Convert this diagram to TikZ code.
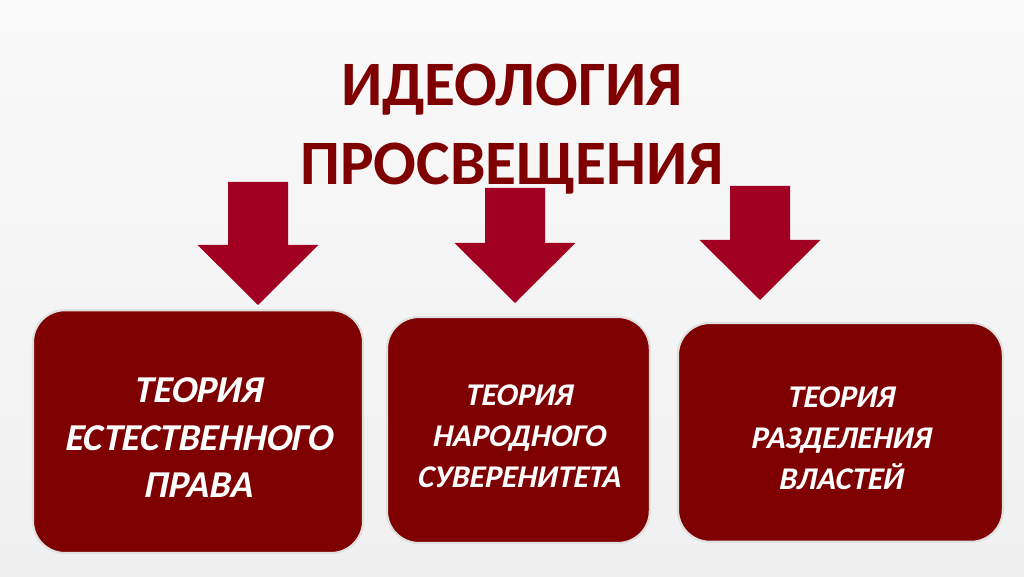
\documentclass[tikz,border=0pt]{standalone}
\usepackage{fontspec}
\setmainfont{Carlito}[BoldItalicFont={Carlito Bold}, BoldItalicFeatures={FakeSlant=0.2}]
\definecolor{boxred}{HTML}{7F0000}
\definecolor{arrowred}{HTML}{A20022}
\definecolor{bgtop}{HTML}{F9F9F9}
\definecolor{bgbot}{HTML}{F0F0F0}
\tikzset{
  theory/.style={rounded corners=0.8cm, fill=boxred, draw=black!12, line width=1.5pt},
  theorytext/.style={text=white, align=center, yshift=-0.15cm},
  bigtext/.style={font=\bfseries\itshape\fontsize{27}{33.5}\selectfont},
  smalltext/.style={font=\bfseries\itshape\fontsize{22.5}{29.3}\selectfont}
}
\begin{document}
\begin{tikzpicture}
\shade[top color=bgtop, bottom color=bgbot] (0,0) rectangle (25.6,14.4);
\useasboundingbox (0,0) rectangle (25.6,14.4);
\node (title) at (12.8,11.17) [align=center, text=boxred,
  font=\bfseries\fontsize{45}{56}\selectfont] {ИДЕОЛОГИЯ\\ПРОСВЕЩЕНИЯ};
% block arrows: x, top, tip
\foreach \x/\top/\tip in {6.45/9.85/6.775, 12.875/9.7/6.825, 19.0/9.75/6.9}
  \fill[arrowred] (\x-0.75,\top) -- (\x+0.75,\top) -- (\x+0.75,\tip+1.5)
    -- (\x+1.51,\tip+1.5) -- (\x,\tip) -- (\x-1.51,\tip+1.5) -- (\x-0.75,\tip+1.5) -- cycle;
\node (law) at (4.95,3.61) [theory, minimum width=8.25cm, minimum height=6.07cm] {};
\node (people) at (12.96,3.65) [theory, minimum width=6.57cm, minimum height=5.65cm] {};
\node (powers) at (21.01,3.59) [theory, minimum width=8.12cm, minimum height=5.47cm] {};
\node (lawtext) at (law) [theorytext, bigtext] {ТЕОРИЯ\\ЕСТЕСТВЕННОГО\\ПРАВА};
\node (peopletext) at (people) [theorytext, smalltext] {ТЕОРИЯ\\НАРОДНОГО\\СУВЕРЕНИТЕТА};
\node (powerstext) at (powers) [theorytext, smalltext] {ТЕОРИЯ\\РАЗДЕЛЕНИЯ\\ВЛАСТЕЙ};
\end{tikzpicture}
\end{document}
